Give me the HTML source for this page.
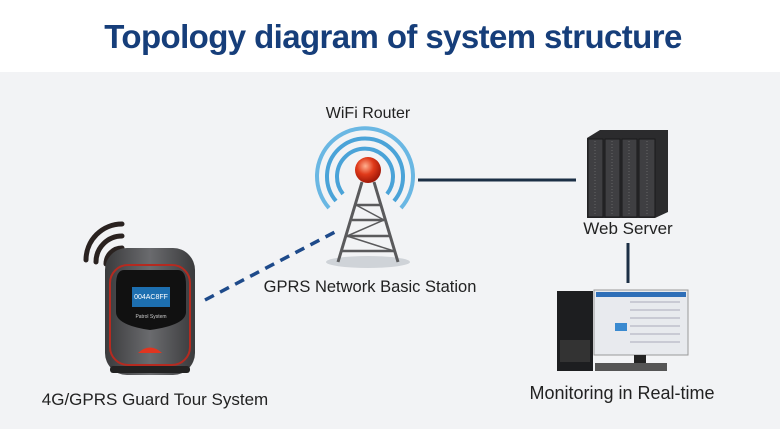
<!DOCTYPE html>
<html><head><meta charset="utf-8"><style>
body{margin:0;width:780px;height:424px;overflow:hidden;background:#f2f3f5;font-family:"Liberation Sans",sans-serif}
</style></head><body>
<svg width="780" height="424" viewBox="0 0 780 424" xmlns="http://www.w3.org/2000/svg" font-family="Liberation Sans, sans-serif">
<defs>
<radialGradient id="ball" cx="40%" cy="35%" r="65%"><stop offset="0" stop-color="#ffb090"/><stop offset=".5" stop-color="#e03a1a"/><stop offset="1" stop-color="#a01808"/></radialGradient>
<linearGradient id="body" x1="0" x2="1"><stop offset="0" stop-color="#3a3a3c"/><stop offset=".5" stop-color="#6a6b6e"/><stop offset="1" stop-color="#3a3a3c"/></linearGradient>
</defs>
<rect x="0" y="0" width="780" height="72" fill="#fff"/>
<text x="393" y="48" text-anchor="middle" font-size="33" font-weight="bold" fill="#163e7a" letter-spacing="-0.6">Topology diagram of system structure</text>
<line x1="418" y1="180" x2="576" y2="180" stroke="#1c2f45" stroke-width="3"/>
<line x1="628" y1="243" x2="628" y2="283" stroke="#1c2f45" stroke-width="3"/>
<line x1="205" y1="300" x2="335" y2="232" stroke="#1e4a8a" stroke-width="3.5" stroke-dasharray="10,7"/>
<g fill="none" stroke="#4aa3d8" stroke-width="4">
<path d="M343 194 A28 28 0 1 1 387 194"/>
<path d="M336 201 A38 38 0 1 1 394 201"/>
<path d="M329 208 A48 48 0 1 1 401 208" stroke="#6ab7e3"/>
</g>
<ellipse cx="368" cy="262" rx="42" ry="6" fill="#cfd3d8"/>
<g stroke="#5a5a5c" stroke-width="3" fill="none">
<path d="M362 182 L338 262 M374 182 L398 262"/>
<path d="M356 205 H380 M352 220 H384 M347 236 H389 M342 251 H394" stroke-width="2.5"/>
<path d="M356 205 L384 220 L347 236 L394 251" stroke-width="1.5"/>
</g>
<circle cx="368" cy="170" r="13" fill="url(#ball)"/>
<text x="368" y="118" text-anchor="middle" font-size="16" fill="#222">WiFi Router</text>
<text x="370" y="292" text-anchor="middle" font-size="16.5" fill="#222">GPRS Network Basic Station</text>
<g fill="none" stroke="#2a2220" stroke-width="5" stroke-linecap="round">
<path d="M86 260 A36 36 0 0 1 122 224"/>
<path d="M96 262 A26 26 0 0 1 122 236"/>
<path d="M106 264 A16 16 0 0 1 122 248"/>
</g>
<rect x="105" y="248" width="90" height="127" rx="22" fill="url(#body)"/>
<rect x="110" y="265" width="80" height="100" rx="18" fill="none" stroke="#b52a20" stroke-width="2"/>
<path d="M124 270 H178 Q186 270 186 285 V312 Q186 325 150 330 Q116 325 116 312 V285 Q116 270 124 270Z" fill="#111"/>
<rect x="132" y="287" width="38" height="20" fill="#1d6fb0"/>
<text x="151" y="299" text-anchor="middle" font-size="7" fill="#fff">004AC8FF</text>
<text x="151" y="318" text-anchor="middle" font-size="5" fill="#ccc">Patrol System</text>
<path d="M138 353 Q150 342 162 353Z" fill="#e03520"/>
<rect x="110" y="366" width="80" height="7" rx="3" fill="#222"/>
<text x="155" y="405" text-anchor="middle" font-size="17" fill="#222">4G/GPRS Guard Tour System</text>
<polygon points="587,138 600,130 668,130 668,212 655,218 587,218" fill="#2b2b2d"/>
<g fill="#3f3f42" stroke="#1a1a1a" stroke-width="1">
<rect x="588" y="139" width="15" height="78"/><rect x="605" y="139" width="15" height="78"/>
<rect x="622" y="139" width="15" height="78"/><rect x="639" y="139" width="16" height="78"/>
</g>
<g stroke="#666" stroke-width="1" stroke-dasharray="1,2">
<line x1="595" y1="141" x2="595" y2="215"/><line x1="612" y1="141" x2="612" y2="215"/><line x1="629" y1="141" x2="629" y2="215"/><line x1="647" y1="141" x2="647" y2="215"/>
</g>
<text x="628" y="234" text-anchor="middle" font-size="17" fill="#222">Web Server</text>
<rect x="557" y="291" width="36" height="80" fill="#1d1e20"/>
<rect x="560" y="340" width="30" height="22" fill="#333"/>
<rect x="594" y="290" width="94" height="65" fill="#e8eaee" stroke="#999"/>
<rect x="596" y="292" width="90" height="5" fill="#2f6fb8"/>
<rect x="615" y="323" width="12" height="8" fill="#3a8ad0"/>
<g stroke="#aab" stroke-width="1"><line x1="630" y1="302" x2="680" y2="302"/><line x1="630" y1="310" x2="680" y2="310"/><line x1="630" y1="318" x2="680" y2="318"/><line x1="630" y1="326" x2="680" y2="326"/><line x1="630" y1="334" x2="680" y2="334"/><line x1="630" y1="342" x2="680" y2="342"/></g>
<rect x="634" y="355" width="12" height="8" fill="#222"/>
<rect x="595" y="363" width="72" height="8" fill="#555"/>
<text x="622" y="399" text-anchor="middle" font-size="18" fill="#222">Monitoring in Real-time</text>
</svg>
</body></html>
